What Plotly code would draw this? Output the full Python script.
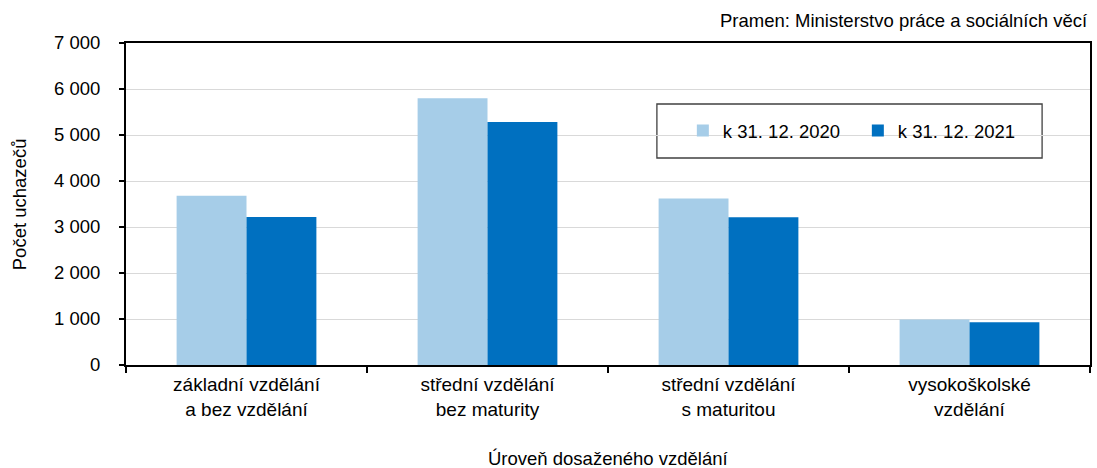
import plotly.graph_objects as go

categories = ["základní vzdělání<br>a bez vzdělání", "střední vzdělání<br>bez maturity",
              "střední vzdělání<br>s maturitou", "vysokoškolské<br>vzdělání"]
series_names = ["k 31. 12. 2020", "k 31. 12. 2021"]
values_2020 = [3680, 5800, 3620, 990]
values_2021 = [3220, 5280, 3210, 930]
colors = ["#A6CDE8", "#0070C0"]

FONT = "Liberation Sans, Arial, sans-serif"

fig = go.Figure()
for name, vals, col in zip(series_names, [values_2020, values_2021], colors):
    fig.add_trace(go.Bar(x=categories, y=vals, name=name,
                         marker=dict(color=col, line=dict(width=0))))

fig.update_layout(
    width=1097, height=468,
    margin=dict(l=126, r=5, t=43, b=103),
    paper_bgcolor="white", plot_bgcolor="white",
    font=dict(family=FONT, size=18.5, color="#000000"),
    barmode="group", bargap=0.42, bargroupgap=0,
    separators=", ",
    showlegend=True,
    legend=dict(orientation="h", x=(684 - 126) / 966, y=(365 - 131) / 322,
                xanchor="left", yanchor="middle",
                bgcolor="rgba(0,0,0,0)", borderwidth=0, entrywidth=130,
                font=dict(family=FONT, size=18.5, color="#000000"),
                itemclick=False, itemdoubleclick=False),
    shapes=[dict(type="rect", xref="paper", yref="paper",
                 x0=(658 - 126) / 966, x1=(1044 - 126) / 966,
                 y0=(365 - 158) / 322, y1=(365 - 104) / 322,
                 line=dict(color="#404040", width=1.3), fillcolor="white", layer="below")],
    annotations=[
        dict(text="Pramen: Ministerstvo práce a sociálních věcí", xref="paper", yref="paper",
             x=1.0, y=1 + (43 - 21) / 322, xanchor="right", yanchor="middle", showarrow=False,
             font=dict(family=FONT, size=18.5, color="#000000")),
        dict(text="Úroveň dosaženého vzdělání", xref="paper", yref="paper",
             x=0.5, y=-(458 - 365) / 322, xanchor="center", yanchor="middle", showarrow=False,
             font=dict(family=FONT, size=18.5, color="#000000")),
        dict(text="Počet uchazečů", xref="paper", yref="paper", textangle=-90,
             x=-(126 - 19) / 966, y=0.5, xanchor="center", yanchor="middle", showarrow=False,
             font=dict(family=FONT, size=18.5, color="#000000")),
    ],
)

fig.update_xaxes(
    showline=True, linecolor="#000000", linewidth=2, mirror=True,
    ticks="outside", tickson="boundaries", ticklen=6, tickcolor="#000000", tickwidth=1.5,
    ticklabelstandoff=1,
    showgrid=False, tickfont=dict(family=FONT, size=19, color="#000000"),
)
fig.update_yaxes(
    range=[0, 7000], dtick=1000, tickformat=",d",
    showline=True, linecolor="#000000", linewidth=2, mirror=True,
    ticks="outside", ticklen=5, tickcolor="#000000", tickwidth=1.5,
    ticklabelstandoff=15,
    showgrid=True, gridcolor="#D9D9D9", gridwidth=1.3, zeroline=False,
    tickfont=dict(family=FONT, size=18.5, color="#000000"),
)

fig.write_html("out.html", config={"displayModeBar": False},
               post_script="document.body.style.margin='0';")
